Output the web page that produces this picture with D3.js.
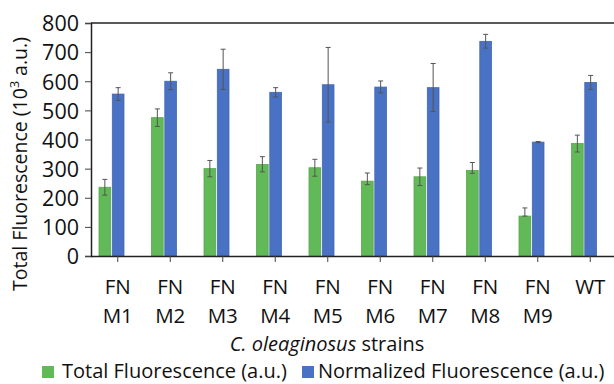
<!DOCTYPE html>
<html>
<head>
<meta charset="utf-8">
<script src="https://cdn.jsdelivr.net/npm/d3@7"></script>
<style>
  html, body { margin: 0; padding: 0; background: #fff; }
  svg { display: block; }
  text { font-family: "Open Sans", Lato, sans-serif; fill: #111; }
</style>
</head>
<body>
<svg id="chart" width="614" height="384"></svg>
<script>
const categories = ["FN M1","FN M2","FN M3","FN M4","FN M5","FN M6","FN M7","FN M8","FN M9","WT"];
const totalValues = [236, 475, 300, 314, 303, 257, 272, 294, 137, 386];
const totalErrUp  = [27, 30, 28, 27, 29, 28, 30, 27, 28, 29];
const totalErrDn  = [27, 30, 28, 25, 29, 12, 30, 10, 0, 29];
const normValues  = [556, 600, 641, 562, 588, 580, 578, 737, 391, 596];
const normErrUp   = [22, 29, 69, 16, 128, 21, 83, 24, 2, 24];
const normErrDn   = [22, 29, 69, 16, 128, 20, 82, 23, 2, 24];
const yTicks = [0,100,200,300,400,500,600,700,800];
const seriesNames = ["Total Fluorescence (a.u.)", "Normalized Fluorescence (a.u.)"];
const colors = ["#62b957", "#4a72c4"];

const svg = d3.select("#chart");
const plotLeft = 91, plotTop = 23, plotBottom = 256;

const x0 = d3.scaleBand().domain(categories).range([91.5, 616.5]).paddingInner(0).paddingOuter(0);
const x1 = d3.scaleBand().domain([0,1]).range([7.5, 32.5]).paddingInner(0.12);
const y = d3.scaleLinear().domain([0, 800]).range([plotBottom, plotTop]);

// bars
const series = [
  {vals: totalValues, up: totalErrUp, dn: totalErrDn},
  {vals: normValues, up: normErrUp, dn: normErrDn}
];
series.forEach((s, si) => {
  const g = svg.append("g");
  g.selectAll("rect").data(categories).join("rect")
    .attr("x", c => x0(c) + x1(si))
    .attr("width", x1.bandwidth())
    .attr("y", (c,i) => y(s.vals[i]))
    .attr("height", (c,i) => y(0) - y(s.vals[i]))
    .attr("fill", colors[si])
    .attr("stroke", d3.color(colors[si]).darker(0.3))
    .attr("stroke-width", 0.8);
});
// error bars
series.forEach((s, si) => {
  const g = svg.append("g").attr("stroke", "#555").attr("stroke-width", 1);
  categories.forEach((c, i) => {
    const cx = x0(c) + x1(si) + x1.bandwidth()/2;
    const hi = y(s.vals[i] + s.up[i]);
    const lo = y(s.vals[i] - s.dn[i]);
    g.append("line").attr("x1", cx).attr("x2", cx).attr("y1", hi).attr("y2", lo);
    g.append("line").attr("x1", cx-2.5).attr("x2", cx+2.5).attr("y1", hi).attr("y2", hi);
    g.append("line").attr("x1", cx-2.5).attr("x2", cx+2.5).attr("y1", lo).attr("y2", lo);
  });
});

// frame: top line
svg.append("line").attr("x1", plotLeft).attr("x2", 614).attr("y1", y(800)).attr("y2", y(800))
  .attr("stroke", "#222").attr("stroke-width", 1.5);

// y axis
const yAxis = svg.append("g").attr("transform", `translate(${plotLeft},0)`)
  .call(d3.axisLeft(y).tickValues(yTicks).tickSize(6).tickPadding(6));
yAxis.select(".domain").attr("stroke", "#222").attr("stroke-width", 1.5);
yAxis.selectAll(".tick line").attr("stroke", "#444");
yAxis.selectAll(".tick text").attr("font-size", 21.5).attr("font-family", "Open Sans").attr("fill", "#111")
  .attr("dy", "0.36em");

// x axis
const xAxis = svg.append("g").attr("transform", `translate(0,${plotBottom})`)
  .call(d3.axisBottom(x0).tickSize(6).tickFormat(""));
xAxis.select(".domain").attr("d", `M${plotLeft},0.5H614`).attr("stroke", "#222").attr("stroke-width", 1.5);
xAxis.selectAll(".tick line").attr("stroke", "#444");
xAxis.selectAll(".tick").each(function(c) {
  const parts = c.split(" ");
  const t = d3.select(this).append("text").attr("fill", "#111").attr("font-size", 20.5)
    .attr("text-anchor", "middle").attr("font-family", "Open Sans");
  parts.forEach((p, k) => t.append("tspan").attr("x", 0).attr("y", 38 + k*29).text(p));
});

// x title
const xt = svg.append("text").attr("x", 327).attr("y", 351).attr("text-anchor", "middle").attr("font-size", 20);
xt.append("tspan").attr("font-style", "italic").text("C. oleaginosus");
xt.append("tspan").text(" strains");

// y title
const yt = svg.append("text").attr("transform", "translate(27,164) rotate(-90)")
  .attr("text-anchor", "middle").attr("font-size", 19.5);
yt.append("tspan").text("Total Fluorescence (10");
yt.append("tspan").attr("font-size", 12.5).attr("dy", -8).text("3");
yt.append("tspan").attr("dy", 8).text(" a.u.)");

// legend
const legX = [42, 302];
seriesNames.forEach((n, i) => {
  svg.append("rect").attr("x", legX[i]).attr("y", 366).attr("width", 12).attr("height", 12).attr("fill", colors[i]);
  svg.append("text").attr("x", legX[i] + (i ? 16 : 20)).attr("y", 378).attr("font-size", 20).text(n);
});
</script>
</body>
</html>
